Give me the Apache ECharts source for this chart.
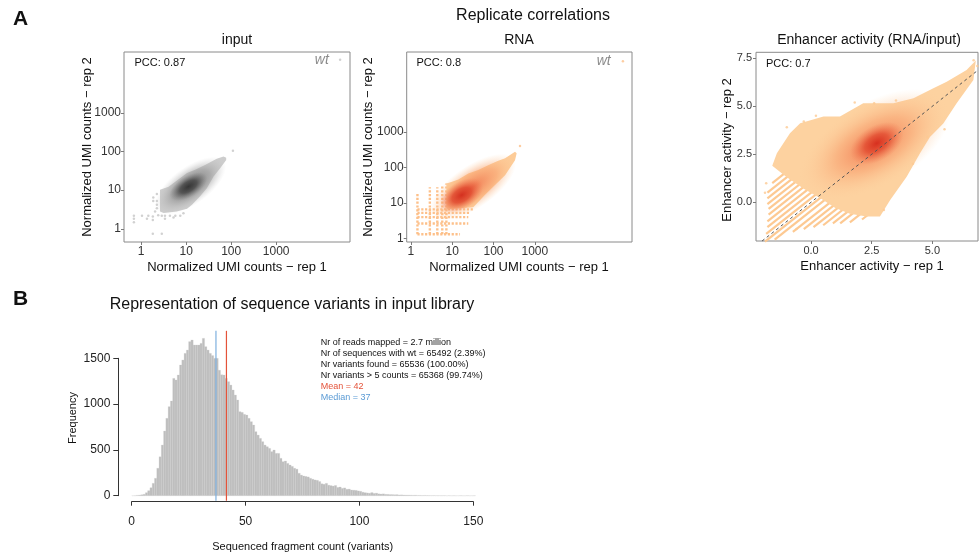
<!DOCTYPE html>
<html><head><meta charset="utf-8">
<script src="https://cdn.jsdelivr.net/npm/echarts@6/dist/echarts.min.js"></script>
<style>html,body{margin:0;padding:0;background:#fff}#c{width:979px;height:555px}</style>
</head><body><div id="c"></div><script>
// ================= DATA =================
// Panel A - input (log10 normalized UMI counts, rep1 vs rep2)
const inputHullLog10 = [[0.42,1.01],[0.61,1.09],[0.76,1.22],[1.02,1.44],[1.20,1.53],[1.42,1.65],[1.68,1.81],[1.83,1.87],[1.89,1.84],[1.89,1.78],[1.76,1.57],[1.61,1.35],[1.46,1.05],[1.31,0.84],[1.13,0.62],[1.02,0.52],[0.79,0.45],[0.50,0.41],[0.42,0.45]];
const inputOutliersLog10 = [[-0.16,0.34],[-0.16,0.26],[-0.16,0.17],[0.02,0.34],[0.16,0.34],[0.13,0.26],[0.27,0.81],[0.27,0.72],[0.35,0.53],[0.31,0.45],[0.26,0.32],[0.26,0.23],[0.46,0.34],[0.53,0.34],[0.64,0.34],[0.76,0.34],[0.87,0.34],[0.53,0.26],[0.72,0.29],[0.94,0.40],[0.26,-0.13],[0.46,-0.13],[0.35,0.62],[0.35,0.72],[0.35,0.90],[0.38,0.35],[2.04,2.02]];
const inputMidEllipse = [1.10, 1.12, 1.85, 1.75, 0.45];   // centre x,y ; major-axis end x,y ; minor/major
const inputCoreEllipse = [1.05, 1.09, 1.45, 1.38, 0.5];
const inputWtLog10 = [[4.42, 4.37]];
const inputPCC = 'PCC: 0.87';

// Panel A - RNA
const rnaHullLog10 = [[0.86,1.55],[0.98,1.59],[1.15,1.66],[1.39,1.83],[1.63,1.93],[1.87,2.06],[2.10,2.18],[2.28,2.26],[2.52,2.44],[2.56,2.40],[2.52,2.20],[2.28,1.78],[2.03,1.50],[1.79,1.22],[1.51,0.88],[0.86,0.82]];
const rnaColumnsLog10 = [[0.16,0.12,1.27],[0.46,0.12,1.44],[0.64,0.12,1.44],[0.76,0.12,1.50],[0.86,0.12,1.55]]; // x, y from, y to
const rnaRowsLog10 = [[0.12,0.16,1.19],[0.42,0.16,1.39],[0.60,0.16,1.39],[0.72,0.16,1.43],[0.82,0.16,1.51]];  // y, x from, x to
const rnaMidEllipse = [1.50, 1.45, 2.50, 2.25, 0.42];
const rnaCoreEllipse = [1.23, 1.22, 1.72, 1.57, 0.58];
const rnaOutliersLog10 = [[2.64,2.60]];
const rnaWtLog10 = [[5.13, 4.99]];
const rnaPCC = 'PCC: 0.8';

// Panel A - Enhancer activity
const enhHull = [[-1.41,2.55],[-0.87,3.59],[-0.45,4.11],[0.51,4.46],[1.19,4.46],[2.15,5.16],[3.39,5.16],[4.22,5.42],[5.04,5.94],[5.59,6.28],[6.41,6.89],[6.79,7.38],[6.69,6.37],[6.00,5.16],[5.45,4.10],[4.90,3.40],[4.49,2.55],[3.94,1.33],[3.26,0.12],[2.84,-0.75],[2.29,-0.75],[1.60,-0.60],[1.00,-0.30],[0.40,0.20],[-0.30,0.70],[-1.00,1.30],[-1.60,1.90]];
const enhStreaks = [[2.6,-1.6,-0.9],[2.3,-1.8,-0.5],[2.0,-1.8,-0.3],[1.7,-1.8,0.0],[1.4,-1.75,0.2],[1.1,-1.75,0.4],[0.8,-1.8,0.6],[0.5,-1.8,0.8],[0.2,-1.85,1.0],[-0.15,-1.9,1.2],[-0.45,-1.5,1.4],[-0.8,-0.75,1.6],[-1.1,-0.3,1.9],[-1.4,0.1,2.1],[-1.7,0.5,2.3],[-2.0,0.9,2.5],[-2.3,1.2,2.7],[-2.65,1.6,2.9],[-3.0,2.1,3.1]]; // intercept (rep2-rep1), rep1 from, rep1 to
const enhOutliers = [[-1.85,0.99],[-1.9,0.5],[-0.6,-1.4],[6.7,7.4],[6.85,7.1],[5.5,3.8],[4.8,3.4],[3.0,-0.4],[-1.0,3.9],[0.2,4.5],[1.8,5.2],[2.6,5.15],[3.5,5.3],[-0.3,4.2],[4.2,2.0]];
const enhMidEllipse = [2.6, 3.0, 5.6, 5.2, 0.5];
const enhCoreEllipse = [2.71, 3.07, 3.75, 3.85, 0.6];
const enhDiagonal = [[-2.02,-2.02,6.88,6.88]];
const enhPCC = 'PCC: 0.7';

// Panel B - histogram (bins of width 1 starting at 0)
const histBinStart = 0, histBinWidth = 1;
const histCounts = [0,1,4,6,10,15,33,55,87,135,190,300,425,553,706,845,972,1034,1281,1263,1318,1427,1481,1554,1590,1682,1700,1645,1645,1645,1663,1718,1627,1590,1554,1530,1500,1500,1370,1320,1318,1281,1245,1208,1154,1099,1045,917,910,888,881,845,808,772,699,662,626,590,553,535,517,481,499,462,462,408,371,379,353,335,320,300,290,245,225,215,210,205,190,180,172,168,155,130,125,135,115,110,105,112,90,95,80,85,70,72,62,60,58,52,48,38,33,30,27,34,25,28,20,18,20,15,14,12,12,10,11,8,9,7,6,6,5,4,5,3,3,2,3,2,2,1,2,1,1,1,1,1,0,1,0,1,0,0,1,0,0,1,0,0,1];
const histMean = 41.6, histMedian = 37;
const histTicksX = [0,50,100,150];
const histTicksY = [0,500,1000,1500];
const scatterTicksLog10 = [0,1,2,3];
const enhTicks = [0,2.5,5,7.5];
const enhTicksX = [0,2.5,5];
const annotLines = ['Nr of reads mapped = 2.7 million','Nr of sequences with wt = 65492 (2.39%)','Nr variants found = 65536 (100.00%)','Nr variants > 5 counts = 65368 (99.74%)','Mean = 42','Median = 37'];

// ================= CHART =================
const F = '"Liberation Sans", Arial, Helvetica, sans-serif';
const chart = echarts.init(document.getElementById('c'), null, {renderer:'canvas'});
const logFmt = v => String(Math.round(Math.pow(10, v)));
function ax(gi, min, max, ticks, fmt, fs, margin) {
  return {type:'value', gridIndex:gi, min, max, splitLine:{show:false}, axisLine:{show:false, onZero:false},
    axisTick:{show:true, length:3, customValues:ticks, lineStyle:{color:'#7a7a7a'}},
    axisLabel:{customValues:ticks, formatter:fmt, color:'#333', fontSize:fs, fontFamily:F, margin:margin}};
}
function poly(i, pts, fill) {
  return {type:'custom', xAxisIndex:i, yAxisIndex:i, silent:true, data:[pts[0]],
    renderItem:(p, api)=>({type:'polygon', shape:{points:pts.map(q=>api.coord(q))}, style:{fill}})};
}
function ell(i, e, stops) {
  return {type:'custom', xAxisIndex:i, yAxisIndex:i, silent:true, data:[[e[0],e[1]]],
    renderItem:(p, api)=>{const c=api.coord([e[0],e[1]]), a=api.coord([e[2],e[3]]);
      const dx=a[0]-c[0], dy=a[1]-c[1];
      return {type:'circle', x:c[0], y:c[1], rotation:-Math.atan2(dy,dx), scaleY:e[4],
        shape:{cx:0, cy:0, r:Math.hypot(dx,dy)},
        style:{fill:{type:'radial', x:0.5, y:0.5, r:0.5, colorStops:stops}}};}};
}
function segs(i, data, color, width, dash) {
  return {type:'custom', xAxisIndex:i, yAxisIndex:i, silent:true, data,
    renderItem:(p, api)=>{const a=api.coord([api.value(0),api.value(1)]), b=api.coord([api.value(2),api.value(3)]);
      return {type:'line', shape:{x1:a[0],y1:a[1],x2:b[0],y2:b[1]}, style:{stroke:color, lineWidth:width, lineDash:dash}};}};
}
function pts(i, data, color, size) {
  return {type:'scatter', xAxisIndex:i, yAxisIndex:i, silent:true, data, symbolSize:size, itemStyle:{color}};
}
function wt(i, data, color, dist) {
  return {type:'scatter', xAxisIndex:i, yAxisIndex:i, silent:true, data, symbolSize:2.5, itemStyle:{color},
    label:{show:true, formatter:'wt', position:'left', distance:dist, fontStyle:'italic', fontSize:14, fontFamily:F, color:'#6e6e6e'}};
}
function txt(x, y, text, size, opts) {
  opts = opts || {};
  return {type:'text', x, y, rotation:opts.rot||0, silent:true,
    style:{text, fill:opts.color||'#111', fontSize:size, fontFamily:F, fontWeight:opts.bold?'bold':'normal',
      align:opts.align||'center', verticalAlign:'middle'}};
}
const gridStyle = {show:true, borderColor:'#8a8a8a', borderWidth:1, backgroundColor:'rgba(0,0,0,0)'};
const rnaSegs = rnaColumnsLog10.map(c=>[c[0],c[1],c[0],c[2]]).concat(rnaRowsLog10.map(r=>[r[1],r[0],r[2],r[0]]));
const enhSegs = enhStreaks.map(s=>[s[1], s[1]+s[0], s[2], s[2]+s[0]]);
const annotColors = ['#111','#111','#111','#111','#E4533A','#5B9BD5'];

const graphics = [
  txt(13, 19, 'A', 21, {bold:true, align:'left'}),
  txt(533, 16, 'Replicate correlations', 16),
  txt(237, 40, 'input', 14),
  txt(519, 40, 'RNA', 14),
  txt(869, 40, 'Enhancer activity (RNA/input)', 14),
  txt(134.5, 63, inputPCC, 11, {align:'left'}),
  txt(416.5, 63, rnaPCC, 11, {align:'left'}),
  txt(766, 64, enhPCC, 11, {align:'left'}),
  txt(237, 267, 'Normalized UMI counts \u2212 rep 1', 13),
  txt(519, 267, 'Normalized UMI counts \u2212 rep 1', 13),
  txt(872, 266, 'Enhancer activity \u2212 rep 1', 13),
  txt(87, 147, 'Normalized UMI counts \u2212 rep 2', 13, {rot:Math.PI/2}),
  txt(368, 147, 'Normalized UMI counts \u2212 rep 2', 13, {rot:Math.PI/2}),
  txt(727, 150, 'Enhancer activity \u2212 rep 2', 13, {rot:Math.PI/2}),
  txt(13, 299, 'B', 21, {bold:true, align:'left'}),
  txt(292, 305, 'Representation of sequence variants in input library', 16),
  txt(73, 418, 'Frequency', 11, {rot:Math.PI/2}),
  txt(302.7, 546.7, 'Sequenced fragment count (variants)', 11)
];
annotLines.forEach((t,k)=>graphics.push(txt(320.7, 342.3 + k*11.07, t, 9, {align:'left', color:annotColors[k]})));

const option = {
  animation:false,
  backgroundColor:'#fff',
  grid:[
    Object.assign({left:124, top:52, width:226, height:190}, gridStyle),
    Object.assign({left:406.7, top:52, width:225.3, height:190}, gridStyle),
    Object.assign({left:756, top:52.3, width:222, height:188.7}, gridStyle),
    {left:131.7, top:358.3, width:341.6, height:137.4, show:false}
  ],
  xAxis:[
    ax(0, -0.38, 4.64, scatterTicksLog10, logFmt, 12, 4),
    ax(1, -0.10, 5.35, scatterTicksLog10, logFmt, 12, 4),
    ax(2, -2.27, 6.88, enhTicksX, v=>v.toFixed(1), 11, 4),
    {type:'value', gridIndex:3, min:0, max:150, offset:6, splitLine:{show:false},
      axisLine:{show:true, onZero:false, lineStyle:{color:'#333', width:1}},
      axisTick:{show:true, length:4, customValues:histTicksX, lineStyle:{color:'#333'}},
      axisLabel:{customValues:histTicksX, formatter:v=>String(v), color:'#222', fontSize:12, fontFamily:F, margin:14}}
  ],
  yAxis:[
    ax(0, -0.34, 4.57, scatterTicksLog10, logFmt, 12, 3),
    ax(1, -0.10, 5.25, scatterTicksLog10, logFmt, 12, 3),
    ax(2, -2.02, 7.81, enhTicks, v=>v.toFixed(1), 11, 4),
    {type:'value', gridIndex:3, min:0, max:1500, offset:13.4, splitLine:{show:false},
      axisLine:{show:true, onZero:false, lineStyle:{color:'#333', width:1}},
      axisTick:{show:true, length:5, customValues:histTicksY, lineStyle:{color:'#333'}},
      axisLabel:{customValues:histTicksY, formatter:v=>String(v), color:'#222', fontSize:12, fontFamily:F, margin:8}}
  ],
  graphic:graphics,
  series:[
    // input
    pts(0, inputOutliersLog10, '#c6c6c6', 2.5),
    poly(0, inputHullLog10, '#cdcdcd'),
    ell(0, inputMidEllipse, [{offset:0,color:'rgba(105,105,105,1)'},{offset:0.55,color:'rgba(150,150,150,0.6)'},{offset:1,color:'rgba(200,200,200,0)'}]),
    ell(0, inputCoreEllipse, [{offset:0,color:'#363636'},{offset:0.45,color:'rgba(70,70,70,0.8)'},{offset:1,color:'rgba(120,120,120,0)'}]),
    wt(0, inputWtLog10, '#c6c6c6', 10),
    // RNA
    segs(1, rnaSegs, '#fdc08a', 2.4, [2.2,1.6]),
    poly(1, rnaHullLog10, '#fdcc98'),
    ell(1, rnaMidEllipse, [{offset:0,color:'rgba(240,120,80,0.95)'},{offset:0.55,color:'rgba(248,160,110,0.6)'},{offset:1,color:'rgba(253,205,155,0)'}]),
    ell(1, rnaCoreEllipse, [{offset:0,color:'#d4301f'},{offset:0.45,color:'rgba(224,72,46,0.85)'},{offset:1,color:'rgba(240,120,80,0)'}]),
    pts(1, rnaOutliersLog10, '#fdc08a', 2.5),
    wt(1, rnaWtLog10, '#fdc08a', 11),
    // Enhancer
    segs(2, enhSegs, '#fdc992', 2.2, null),
    poly(2, enhHull, '#fdd2a0'),
    ell(2, enhMidEllipse, [{offset:0,color:'rgba(240,112,72,0.95)'},{offset:0.5,color:'rgba(248,162,112,0.6)'},{offset:1,color:'rgba(253,210,160,0)'}]),
    ell(2, enhCoreEllipse, [{offset:0,color:'#d7301f'},{offset:0.45,color:'rgba(226,75,48,0.8)'},{offset:1,color:'rgba(240,125,85,0)'}]),
    pts(2, enhOutliers, '#fdc992', 2.5),
    segs(2, enhDiagonal, '#555', 1, [3,3]),
    // Histogram
    {type:'custom', xAxisIndex:3, yAxisIndex:3, silent:true, clip:false,
      data:histCounts.map((v,k)=>[histBinStart + k*histBinWidth, v]),
      renderItem:(p, api)=>{const a=api.coord([api.value(0), api.value(1)]), b=api.coord([api.value(0)+histBinWidth, 0]);
        return {type:'rect', shape:{x:a[0], y:a[1], width:b[0]-a[0], height:b[1]-a[1]}, style:{fill:'#bebebe', stroke:'#cfcfcf', lineWidth:0.25}};}},
    {type:'custom', xAxisIndex:3, yAxisIndex:3, silent:true, clip:false,
      data:[[histMedian,-55,histMedian,1800,0],[histMean,-55,histMean,1800,1]],
      renderItem:(p, api)=>{const a=api.coord([api.value(0),api.value(1)]), b=api.coord([api.value(2),api.value(3)]);
        return {type:'line', shape:{x1:a[0],y1:a[1],x2:b[0],y2:b[1]}, style:{stroke: api.value(4)?'#E4533A':'#7EB0DE', lineWidth:1.2}};}}
  ]
};
chart.setOption(option);
</script></body></html>
